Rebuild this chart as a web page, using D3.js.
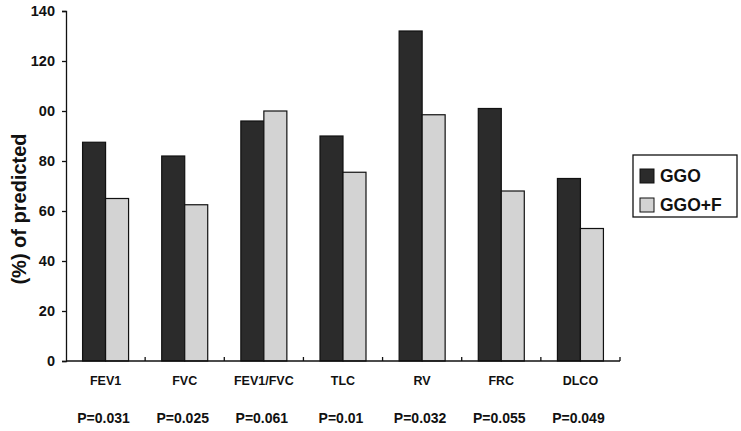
<!DOCTYPE html>
<html>
<head>
<meta charset="utf-8">
<script src="https://cdn.jsdelivr.net/npm/d3@7"></script>
<style>
  body { margin: 0; background: #fff; }
  text { font-family: "Liberation Sans", Arial, sans-serif; font-weight: bold; fill: #111; }
</style>
</head>
<body>
<svg id="chart" width="741" height="431"></svg>
<script>
// values
var categories = ["FEV1", "FVC", "FEV1/FVC", "TLC", "RV", "FRC", "DLCO"]
var pValues = ["P=0.031", "P=0.025", "P=0.061", "P=0.01", "P=0.032", "P=0.055", "P=0.049"]
var ggo = [87.5, 82, 96, 90, 132, 101, 73]
var ggoF = [65, 62.5, 100, 75.5, 98.5, 68, 53]
var seriesNames = ["GGO", "GGO+F"]
var yTicks = [0, 20, 40, 60, 80, 100, 120, 140]
var yTickLabels = ["0", "20", "40", "60", "80", "00", "120", "140"]

var colors = { "GGO": "#2b2b2b", "GGO+F": "#d3d3d3" }

var svg = d3.select("#chart")
var x0 = 66, x1 = 620, yTop = 11, yBase = 361

var x = d3.scaleBand().domain(categories).range([x0, x1])
var xs = d3.scaleBand().domain(seriesNames).range([0, 46])
var y = d3.scaleLinear().domain([0, 140]).range([yBase, yTop])

var rows = categories.map((c, i) => ({ cat: c, p: pValues[i], vals: [ggo[i], ggoF[i]] }))

// bars
var groups = svg.selectAll("g.grp").data(rows).enter()
    .append("g").attr("class", "grp")
    .attr("transform", d => "translate(" + (x(d.cat) + (x.bandwidth() - 46) / 2) + ",0)")
groups.selectAll("rect")
    .data(d => d.vals.map((v, j) => ({ name: seriesNames[j], v: v })))
    .enter().append("rect")
    .attr("x", d => xs(d.name))
    .attr("width", xs.bandwidth())
    .attr("y", d => y(d.v))
    .attr("height", d => yBase - y(d.v))
    .attr("fill", d => colors[d.name])
    .attr("stroke", "#111")
    .attr("stroke-width", 1.2)

// y axis
var yAxis = d3.axisLeft(y).tickValues(yTicks).tickSize(4)
    .tickFormat((d, i) => yTickLabels[i])
var ya = svg.append("g").attr("transform", "translate(" + x0 + ",0)").call(yAxis)
ya.select(".domain").attr("stroke", "#111").attr("stroke-width", 1.3)
ya.selectAll(".tick line").attr("stroke", "#111").attr("stroke-width", 1.3)
ya.selectAll(".tick text").attr("x", -11)
    .style("font-size", "14.5px").style("font-family", "Liberation Sans, Arial, sans-serif")
    .style("font-weight", "bold").attr("fill", "#111")

// x axis with small inward ticks at band edges
svg.append("line").attr("x1", x0).attr("x2", x1).attr("y1", yBase).attr("y2", yBase)
    .attr("stroke", "#111").attr("stroke-width", 1.3)
var edges = categories.slice(1).map(c => x(c)).concat([x1])
svg.selectAll("line.xt").data(edges).enter().append("line").attr("class", "xt")
    .attr("x1", d => d).attr("x2", d => d)
    .attr("y1", yBase).attr("y2", yBase - 4)
    .attr("stroke", "#111").attr("stroke-width", 1.3)

svg.selectAll("text.cat").data(categories).enter().append("text").attr("class", "cat")
    .attr("x", d => x(d) + x.bandwidth() / 2)
    .attr("y", 385)
    .attr("text-anchor", "middle")
    .style("font-size", "12.5px")
    .text(d => d)

svg.selectAll("text.pv").data(rows).enter().append("text").attr("class", "pv")
    .attr("x", d => x(d.cat) + x.bandwidth() / 2 - 2)
    .attr("y", 423)
    .attr("text-anchor", "middle")
    .style("font-size", "14px")
    .text(d => d.p)

// y label
svg.append("text")
    .attr("transform", "translate(26,209) rotate(-90)")
    .attr("text-anchor", "middle")
    .style("font-size", "20px")
    .text("(%) of predicted")

// legend
var lg = svg.append("g").attr("transform", "translate(633,155)")
lg.append("rect").attr("width", 104).attr("height", 62)
    .attr("fill", "#fff").attr("stroke", "#111").attr("stroke-width", 1.3)
var items = lg.selectAll("g.it").data(seriesNames).enter().append("g").attr("class", "it")
    .attr("transform", (d, i) => "translate(7," + (14 + i * 29) + ")")
items.append("rect").attr("width", 14).attr("height", 14)
    .attr("fill", d => colors[d]).attr("stroke", "#111").attr("stroke-width", 1)
items.append("text").attr("x", 20).attr("y", 13)
    .style("font-size", "17.5px")
    .text(d => d)
</script>
</body>
</html>
